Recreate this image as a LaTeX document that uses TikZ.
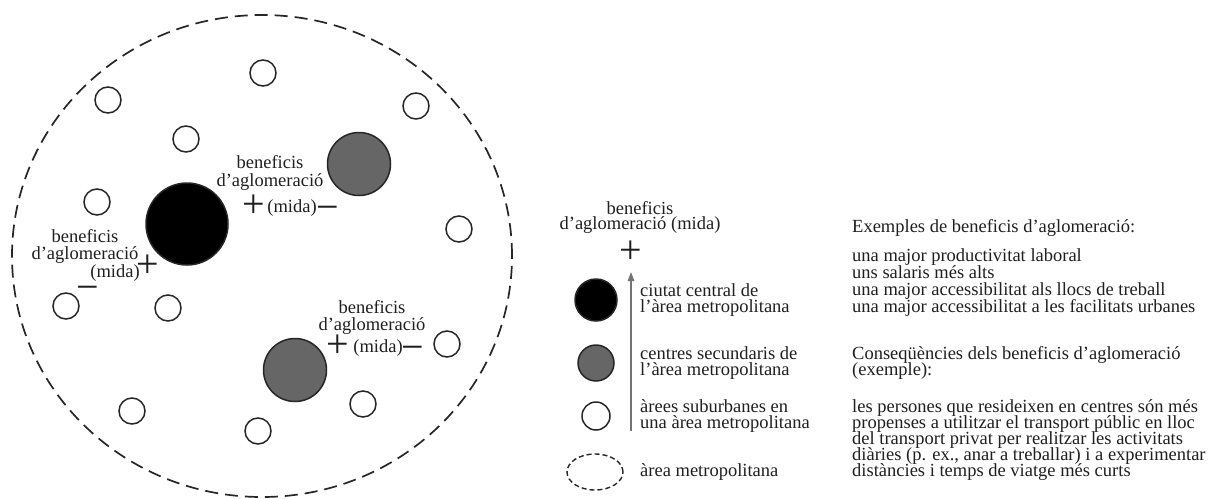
\documentclass[tikz,border=0pt]{standalone}
\usepackage{fontspec}
\setmainfont{Liberation Serif}
\usetikzlibrary{arrows.meta,shapes.geometric}
% font size and fixed line pitch (no extra \lineskip between tall lines)
\newcommand\fsz[2]{\fontsize{#1}{#2}\selectfont\lineskiplimit=-100pt\lineskip=0pt\relax}
\begin{document}
\begin{tikzpicture}[x=1pt,y=-1pt,
  txt/.style={inner sep=0pt, text=black!88, font=\fsz{18.5}{17}},
  lbl/.style={txt, anchor=base, align=center, font=\fsz{18.5}{17.5}},
  sign/.style={inner sep=0pt, anchor=base, text=black!88, font=\fsz{40}{40}},
  disc/.style={circle, draw=black!85, line width=1.5pt, inner sep=0pt, minimum size=#1},
  suburb/.style={disc=#1, fill=white},
  central/.style={disc=#1, fill=black},
  secondary/.style={disc=#1, fill=black!60},
  metro/.style={ellipse, draw=black!85, inner sep=0pt, fill=none},
  axis/.style={draw=black!55, line width=1.2pt, -{Triangle[length=9pt,width=6.5pt]}}
]
\useasboundingbox (0,0) rectangle (1212,498);

% metropolitan area
\node[metro, line width=1.7pt, dash pattern=on 13pt off 7pt,
      minimum width=500pt, minimum height=482pt] (area) at (262,256) {};

% suburban areas
\node[suburb=26pt] (s1)  at (263,73)  {};
\node[suburb=26pt] (s2)  at (108,100) {};
\node[suburb=26pt] (s3)  at (416,106) {};
\node[suburb=26pt] (s4)  at (186,139) {};
\node[suburb=26pt] (s5)  at (97,202)  {};
\node[suburb=26pt] (s6)  at (459,229) {};
\node[suburb=26pt] (s7)  at (66,306)  {};
\node[suburb=26pt] (s8)  at (168,308) {};
\node[suburb=26pt] (s9)  at (447,344) {};
\node[suburb=26pt] (s10) at (132,411) {};
\node[suburb=26pt] (s11) at (363,404) {};
\node[suburb=26pt] (s12) at (258,431) {};

% central city and secondary centres
\node[central=82pt]   (city) at (187,224) {};
\node[secondary=63pt] (sec1) at (359,164) {};
\node[secondary=63pt] (sec2) at (295,370) {};

% agglomeration benefits between city and upper centre (signs sit on their baseline)
\node[lbl] (b1) at (270,186) {beneficis\\d’aglomeració};
\node[sign] (p1) at (254,217) {+};
\node[txt, anchor=base] (m1) at (292,212) {(mida)};
\node[sign] (n1) at (328,220) {−};

% agglomeration benefits around the central city
\node[lbl] (b2) at (85,259.5) {beneficis\\d’aglomeració};
\node[txt, anchor=base] (m2) at (115,277) {(mida)};
\node[sign] (p2) at (148,277) {+};
\node[sign] (n2) at (88,300) {−};

% agglomeration benefits around the lower centre
\node[lbl] (b3) at (372,330.5) {beneficis\\d’aglomeració};
\node[sign] (p3) at (338,357) {+};
\node[txt, anchor=base] (m3) at (378,352) {(mida)};
\node[sign] (n3) at (413,360) {−};

% legend
\node[lbl, font=\fsz{18.5}{15}] (legtitle) at (640,229) {beneficis\\d’aglomeració (mida)};
\node[sign] (legplus) at (631,263) {+};
\coordinate (axisfoot) at (631,431);
\coordinate (axishead) at (631,272);
\draw[axis] (axisfoot) -- (axishead);

\node[central=42pt]   (kcity) at (596,300) {};
\node[secondary=36pt] (ksec)  at (596,363) {};
\node[suburb=28pt]    (ksub)  at (596,416) {};
\node[metro, line width=1.4pt, dash pattern=on 5pt off 3pt,
      minimum width=56pt, minimum height=36pt] (karea) at (595,472) {};

\node[txt, anchor=base west, align=left, font=\fsz{18.5}{16}] (tcity) at (640,312.5)
  {ciutat central de\\l’àrea metropolitana};
\node[txt, anchor=base west, align=left, font=\fsz{18.5}{16}] (tsec) at (640,375.5)
  {centres secundaris de\\l’àrea metropolitana};
\node[txt, anchor=base west, align=left, font=\fsz{18.5}{16}] (tsub) at (640,428.5)
  {àrees suburbanes en\\una àrea metropolitana};
\node[txt, anchor=base west] (tarea) at (640,476.5) {àrea metropolitana};

% examples
\node[txt, anchor=base west] (exhead) at (852,232.5) {Exemples de beneficis d’aglomeració:};
\node[txt, anchor=base west, align=left, font=\fsz{18.5}{17}] (exlist) at (852,312.5)
  {una major productivitat laboral\\uns salaris més alts\\una major accessibilitat als llocs de treball\\una major accessibilitat a les facilitats urbanes};
\node[txt, anchor=base west, align=left, font=\fsz{18.5}{16}] (cohead) at (852,375.5)
  {Conseqüències dels beneficis d’aglomeració\\(exemple):};
\node[txt, anchor=base west, align=left, font=\fsz{18.5}{16}] (colist) at (852,476.5)
  {les persones que resideixen en centres són més\\propenses a utilitzar el transport públic en lloc\\del transport privat per realitzar les activitats\\diàries (p. ex., anar a treballar) i a experimentar\\distàncies i temps de viatge més curts};
\end{tikzpicture}
\end{document}
